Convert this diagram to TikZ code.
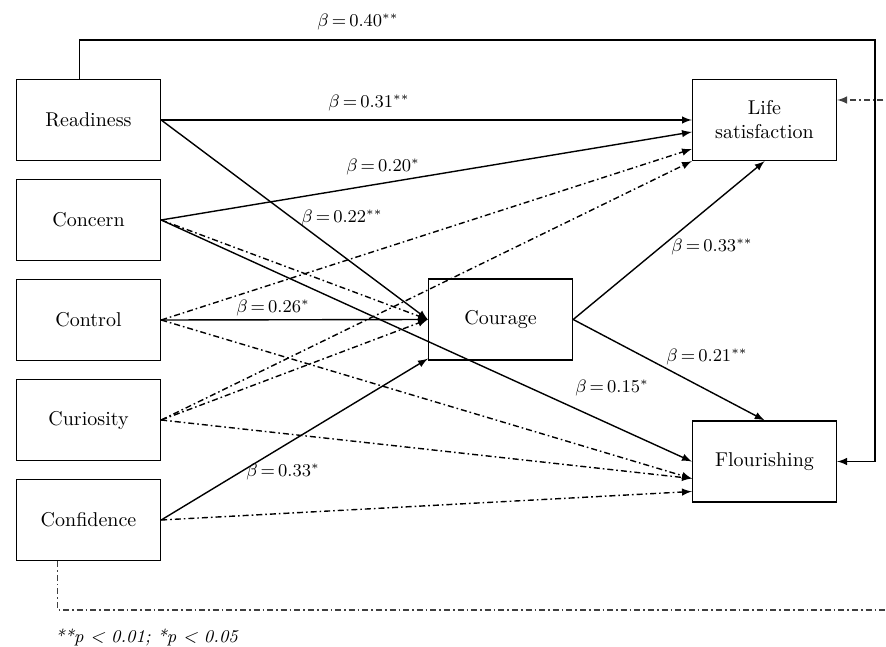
\documentclass[tikz,border=0pt]{standalone}
\usepackage{tikz}
\usetikzlibrary{positioning,calc}
\tikzstyle{var}=[draw,minimum width=72pt,minimum height=40.5pt,align=center,inner sep=2pt]
\tikzstyle{nonsig}=[dash pattern=on 3pt off 1.5pt on 0.8pt off 1.5pt]
\tikzstyle{coef}=[font=\small,inner sep=1pt]

\begin{document}
\begin{tikzpicture}[x=0.5pt,y=-0.5pt]
\useasboundingbox (0,0) rectangle (886,646);
\clip (0,0) rectangle (886,646);
\tikzstyle{every path}=[-latex,line width=0.7pt]
\node (Read) [var] at (88.5,120) {Readiness};
\node (Conc) [var,below=8.8pt of Read] {Concern};
\node (Ctrl) [var,below=8.8pt of Conc] {Control};
\node (Cur) [var,below=8.8pt of Ctrl] {Curiosity};
\node (Conf) [var,below=8.8pt of Cur] {Confidence};
\node (Cour) [var] at (500.5,319.5) {Courage};
\node (Life) [var] at (764.5,120) {Life\\satisfaction};
\node (Flour) [var] at (764.5,461.5) {Flourishing};
\coordinate (topR) at (875,40);
\coordinate (botR) at (905,610);

% significant paths
\draw (Read.east) -- (Life.west);
\draw (Read.east) -- (Cour.west);
\draw (Conc.east) -- ($(Life.west)+(0,12)$);
\draw (Conc.east) -- (Flour.west);
\draw (Ctrl.east) -- (Cour.west);
\draw (Conf.east) -- ($(Cour.south west)+(0,-2)$);
\draw (Cour.east) -- (Life.south);
\draw (Cour.east) -- (Flour.north);
\draw ($(Read.north)+(-9,0)$) |- (topR) |- (Flour.east);

% non-significant paths
\draw[nonsig] (Conc.east) -- (Cour.west);
\draw[nonsig] (Ctrl.east) -- ($(Life.west)+(0,29)$);
\draw[nonsig] (Ctrl.east) -- ($(Flour.west)+(0,17)$);
\draw[nonsig] (Cur.east) -- (Life.south west);
\draw[nonsig] (Cur.east) -- (Cour.west);
\draw[nonsig] (Cur.east) -- ($(Flour.west)+(0,17)$);
\draw[nonsig] (Conf.east) -- ($(Flour.west)+(0,30)$);
\draw[nonsig,black!75] ($(Conf.south)+(-31,0)$) |- (botR) |- ($(Life.east)+(0,-20)$);

\node (b40) [coef] at (358,22) {$\beta\,{=}\,0.40^{**}$};
\node (b31) [coef] at (369,103) {$\beta\,{=}\,0.31^{**}$};
\node (b20) [coef] at (383,167) {$\beta\,{=}\,0.20^{*}$};
\node (b22) [coef] at (342,218) {$\beta\,{=}\,0.22^{**}$};
\node (b26) [coef] at (273,308) {$\beta\,{=}\,0.26^{*}$};
\node (b33a) [coef] at (712,247) {$\beta\,{=}\,0.33^{**}$};
\node (b21) [coef] at (707,357) {$\beta\,{=}\,0.21^{**}$};
\node (b15) [coef] at (612,388) {$\beta\,{=}\,0.15^{*}$};
\node (b33b) [coef] at (283,472) {$\beta\,{=}\,0.33^{*}$};
\node (note) [font=\small] at (147,637) {\textit{**p < 0.01; *p < 0.05}};
\end{tikzpicture}
\end{document}
